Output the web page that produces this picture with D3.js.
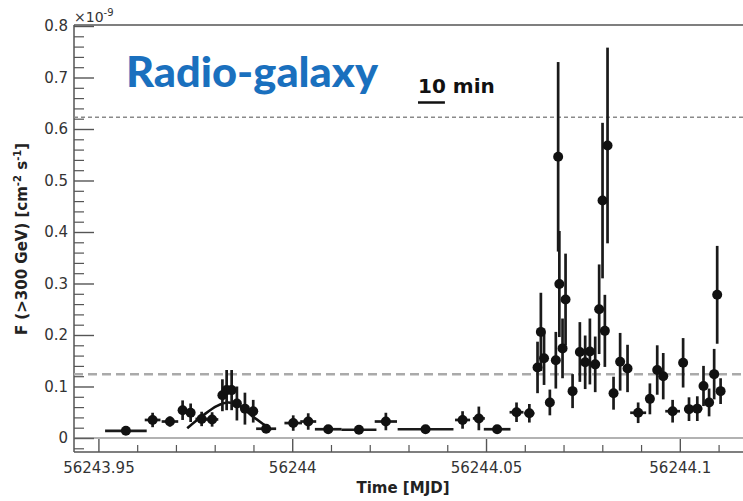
<!DOCTYPE html>
<html>
<head>
<meta charset="utf-8">
<script src="https://cdn.jsdelivr.net/npm/d3@7"></script>
<style>
  body { margin: 0; background: #fff; }
  svg { display: block; font-family: "DejaVu Sans", sans-serif; }
</style>
</head>
<body>
<div id="chart"></div>
<script>
// light curve points (MJD, flux in 1e-9 cm^-2 s^-1)
const time = [
  56243.95709, 56243.96398, 56243.96845, 56243.97172, 56243.97379, 56243.97663, 56243.97933,
  56243.98199, 56243.98308, 56243.98437, 56243.98573, 56243.98780, 56243.98994, 56243.99327,
  56244.00026, 56244.00413, 56244.00929, 56244.01721, 56244.02416, 56244.03440, 56244.04395,
  56244.04815, 56244.05287, 56244.05787, 56244.06118,
  56244.06329, 56244.06415, 56244.06497, 56244.06647, 56244.06801, 56244.06861, 56244.06892,
  56244.06974, 56244.07052, 56244.07233, 56244.07421, 56244.07558, 56244.07680, 56244.07817,
  56244.07919, 56244.08006, 56244.08066, 56244.08135, 56244.08290, 56244.08460, 56244.08651,
  56244.08925, 56244.09228, 56244.09417, 56244.09572, 56244.09814, 56244.10085, 56244.10237,
  56244.10451, 56244.10611, 56244.10755, 56244.10886, 56244.10964, 56244.11052
];
const flux = [
  0.014, 0.035, 0.032, 0.054, 0.049, 0.037, 0.036,
  0.083, 0.093, 0.093, 0.067, 0.057, 0.052, 0.018,
  0.029, 0.032, 0.017, 0.016, 0.032, 0.017, 0.035,
  0.038, 0.017, 0.050, 0.048,
  0.137, 0.206, 0.155, 0.069, 0.151, 0.546, 0.299,
  0.174, 0.269, 0.091, 0.167, 0.147, 0.168, 0.143,
  0.250, 0.461, 0.208, 0.568, 0.087, 0.148, 0.135,
  0.049, 0.076, 0.132, 0.120, 0.052, 0.146, 0.056,
  0.057, 0.101, 0.069, 0.124, 0.278, 0.091
];
const timeErr = [
  0.00537, 0.00203, 0.00214, 0.00110, 0.00110, 0.00160, 0.00160,
  0.00080, 0.00060, 0.00060, 0.00080, 0.00100, 0.00100, 0.00258,
  0.00227, 0.00206, 0.00344, 0.00452, 0.00288, 0.00720, 0.00194,
  0.00155, 0.00344, 0.00180, 0.00130,
  0.0006, 0.0006, 0.0006, 0.0010, 0.0006, 0.0004, 0.0004,
  0.0006, 0.0006, 0.0010, 0.0006, 0.0006, 0.0006, 0.0006,
  0.0005, 0.0005, 0.0005, 0.0005, 0.0010, 0.0008, 0.0008,
  0.00206, 0.0010, 0.0008, 0.0008, 0.0019, 0.0008, 0.0013,
  0.0013, 0.0008, 0.0008, 0.0006, 0.0006, 0.0008
];
const fluxErr = [
  0.006, 0.014, 0.010, 0.019, 0.018, 0.014, 0.014,
  0.031, 0.039, 0.039, 0.033, 0.031, 0.022, 0.008,
  0.015, 0.016, 0.008, 0.008, 0.017, 0.006, 0.017,
  0.023, 0.008, 0.019, 0.018,
  0.050, 0.076, 0.052, 0.025, 0.055, 0.184, 0.103,
  0.058, 0.089, 0.033, 0.058, 0.052, 0.064, 0.054,
  0.087, 0.151, 0.070, 0.190, 0.032, 0.056, 0.046,
  0.020, 0.030, 0.048, 0.045, 0.022, 0.048, 0.023,
  0.024, 0.039, 0.027, 0.049, 0.095, 0.025
];

// gaussian fit on the first bump
const fitTime = [56243.97291, 56243.97704, 56243.98050, 56243.98349, 56243.98651, 56243.98994, 56243.99252, 56243.99469];
const fitFlux = [0.019, 0.044, 0.062, 0.069, 0.062, 0.041, 0.027, 0.016];

// reference levels
const levels = [0.6227, 0.124];

const xTicks = [56243.95, 56244, 56244.05, 56244.1];
const xTickLabels = ["56243.95", "56244", "56244.05", "56244.1"];
const yTicks = [0, 0.1, 0.2, 0.3, 0.4, 0.5, 0.6, 0.7, 0.8];
const yTickLabels = ["0", "0.1", "0.2", "0.3", "0.4", "0.5", "0.6", "0.7", "0.8"];

const W = 743, H = 501;
const plot = { left: 74, right: 743, top: 26, bottom: 452 };

const svg = d3.select("#chart").append("svg")
    .attr("width", W)
    .attr("height", H);

svg.append("rect").attr("width", W).attr("height", H).attr("fill", "#fff");

const x = d3.scaleLinear()
    .domain([56243.9437, 56244.1163])
    .range([plot.left, plot.right]);

const y = d3.scaleLinear()
    .domain([-0.0272, 0.8])
    .range([plot.bottom, plot.top]);

const axisColor = "#555";

//minor ticks
const yMinor = d3.range(-0.02, 0.801, 0.02).filter(v => Math.abs(v * 10 - Math.round(v * 10)) > 1e-6);
svg.append("g")
    .attr("transform", `translate(${plot.left},0)`)
    .call(d3.axisLeft(y).tickValues(yMinor).tickSize(-10).tickFormat(""))
    .call(g => g.select(".domain").remove())
    .selectAll("line").attr("stroke", axisColor).attr("stroke-width", 1.2);

const xMinor = d3.range(56243.95, 56244.115, 0.01).filter(v => Math.abs(v * 20 - Math.round(v * 20)) > 1e-6);
svg.append("g")
    .attr("transform", `translate(0,${plot.bottom})`)
    .call(d3.axisBottom(x).tickValues(xMinor).tickSize(-7).tickFormat(""))
    .call(g => g.select(".domain").remove())
    .selectAll("line").attr("stroke", axisColor).attr("stroke-width", 1.2);

//major y axis
svg.append("g")
    .attr("transform", `translate(${plot.left},0)`)
    .call(d3.axisLeft(y).tickValues(yTicks).tickSize(-20).tickPadding(6)
        .tickFormat((d, i) => yTickLabels[i]))
    .call(g => g.select(".domain").remove())
    .call(g => g.selectAll("line").attr("stroke", axisColor).attr("stroke-width", 1.4))
    .call(g => g.selectAll("text").attr("fill", "#333").style("font-size", "15px")
        .style("font-family", "DejaVu Sans"));

//major x axis
svg.append("g")
    .attr("transform", `translate(0,${plot.bottom})`)
    .call(d3.axisBottom(x).tickValues(xTicks).tickSize(-13).tickPadding(10)
        .tickFormat((d, i) => xTickLabels[i]))
    .call(g => g.select(".domain").remove())
    .call(g => g.selectAll("line").attr("stroke", axisColor).attr("stroke-width", 1.4))
    .call(g => g.selectAll("text").attr("fill", "#333").style("font-size", "15px")
        .style("font-family", "DejaVu Sans"));

// frame lines and zero line
svg.append("line")
    .attr("x1", plot.left).attr("x2", plot.left)
    .attr("y1", plot.top - 1).attr("y2", plot.bottom)
    .attr("stroke", axisColor).attr("stroke-width", 1.5);
svg.append("line")
    .attr("x1", plot.left).attr("x2", plot.right)
    .attr("y1", plot.bottom).attr("y2", plot.bottom)
    .attr("stroke", axisColor).attr("stroke-width", 1.5);
svg.append("line")
    .attr("x1", plot.left).attr("x2", plot.right)
    .attr("y1", plot.top - 1).attr("y2", plot.top - 1)
    .attr("stroke", axisColor).attr("stroke-width", 1.5);
svg.append("line")
    .attr("x1", plot.left).attr("x2", plot.right)
    .attr("y1", y(0)).attr("y2", y(0))
    .attr("stroke", "#666").attr("stroke-width", 1.2);

// dashed reference levels
svg.append("line")
    .attr("x1", plot.left).attr("x2", plot.right)
    .attr("y1", y(levels[0])).attr("y2", y(levels[0]))
    .attr("stroke", "#8a8a8a").attr("stroke-width", 1.5)
    .attr("stroke-dasharray", "4,3");
svg.append("line")
    .attr("x1", plot.left).attr("x2", plot.right)
    .attr("y1", y(levels[1])).attr("y2", y(levels[1]))
    .attr("stroke", "#aaa").attr("stroke-width", 2.5)
    .attr("stroke-dasharray", "9,5");

// gaussian fit
const fitLine = d3.line()
    .x((d, i) => x(fitTime[i]))
    .y(d => y(d))
    .curve(d3.curveCatmullRom);
svg.append("path")
    .datum(fitFlux)
    .attr("d", fitLine)
    .attr("fill", "none")
    .attr("stroke", "#111")
    .attr("stroke-width", 2.6);

// points with error bars
const pts = time.map((t, i) => ({ t, f: flux[i], te: timeErr[i], fe: fluxErr[i] }));
const g = svg.append("g");
g.selectAll("line.ey")
    .data(pts)
    .join("line")
    .attr("class", "ey")
    .attr("x1", d => x(d.t)).attr("x2", d => x(d.t))
    .attr("y1", d => y(d.f - d.fe)).attr("y2", d => y(d.f + d.fe))
    .attr("stroke", "#1a1a1a").attr("stroke-width", 2.7);
g.selectAll("line.ex")
    .data(pts)
    .join("line")
    .attr("class", "ex")
    .attr("x1", d => x(d.t - d.te)).attr("x2", d => x(d.t + d.te))
    .attr("y1", d => y(d.f)).attr("y2", d => y(d.f))
    .attr("stroke", "#1a1a1a").attr("stroke-width", 2.7);
g.selectAll("circle")
    .data(pts)
    .join("circle")
    .attr("cx", d => x(d.t))
    .attr("cy", d => y(d.f))
    .attr("r", 5)
    .attr("fill", "#111");

// x10^-9 exponent
const expo = svg.append("text")
    .attr("x", plot.left)
    .attr("y", 22)
    .attr("fill", "#333")
    .style("font-size", "14px");
expo.append("tspan").text("×10");
expo.append("tspan").attr("dy", -6).style("font-size", "10px").text("-9");

// axis titles
svg.append("text")
    .attr("x", 403)
    .attr("y", 493)
    .attr("text-anchor", "middle")
    .attr("fill", "#222")
    .style("font-size", "15px")
    .style("font-weight", "bold")
    .text("Time [MJD]");

const yTitle = svg.append("text")
    .attr("transform", "translate(27,239) rotate(-90)")
    .attr("text-anchor", "middle")
    .attr("fill", "#222")
    .style("font-size", "15px")
    .style("font-weight", "bold");
yTitle.append("tspan").text("F (>300 GeV) [cm");
yTitle.append("tspan").attr("dy", -6).style("font-size", "10px").text("-2");
yTitle.append("tspan").attr("dy", 6).text(" s");
yTitle.append("tspan").attr("dy", -6).style("font-size", "10px").text("-1");
yTitle.append("tspan").attr("dy", 6).text("]");

// annotations
svg.append("text")
    .attr("x", 126)
    .attr("y", 87)
    .attr("fill", "#1a70be")
    .attr("textLength", 252)
    .attr("lengthAdjust", "spacingAndGlyphs")
    .style("font-family", "Lato, 'Open Sans', sans-serif")
    .style("font-size", "42px")
    .style("font-weight", "900")
    .text("Radio-galaxy");

svg.append("text")
    .attr("x", 418)
    .attr("y", 93)
    .attr("fill", "#111")
    .style("font-size", "20px")
    .style("font-weight", "bold")
    .text("10 min");

// 10 minute scale bar
const barStart = x.invert(418);
svg.append("line")
    .attr("x1", x(barStart)).attr("x2", x(barStart + 10 / 1440))
    .attr("y1", 102.5).attr("y2", 102.5)
    .attr("stroke", "#111").attr("stroke-width", 2.5);
</script>
</body>
</html>
